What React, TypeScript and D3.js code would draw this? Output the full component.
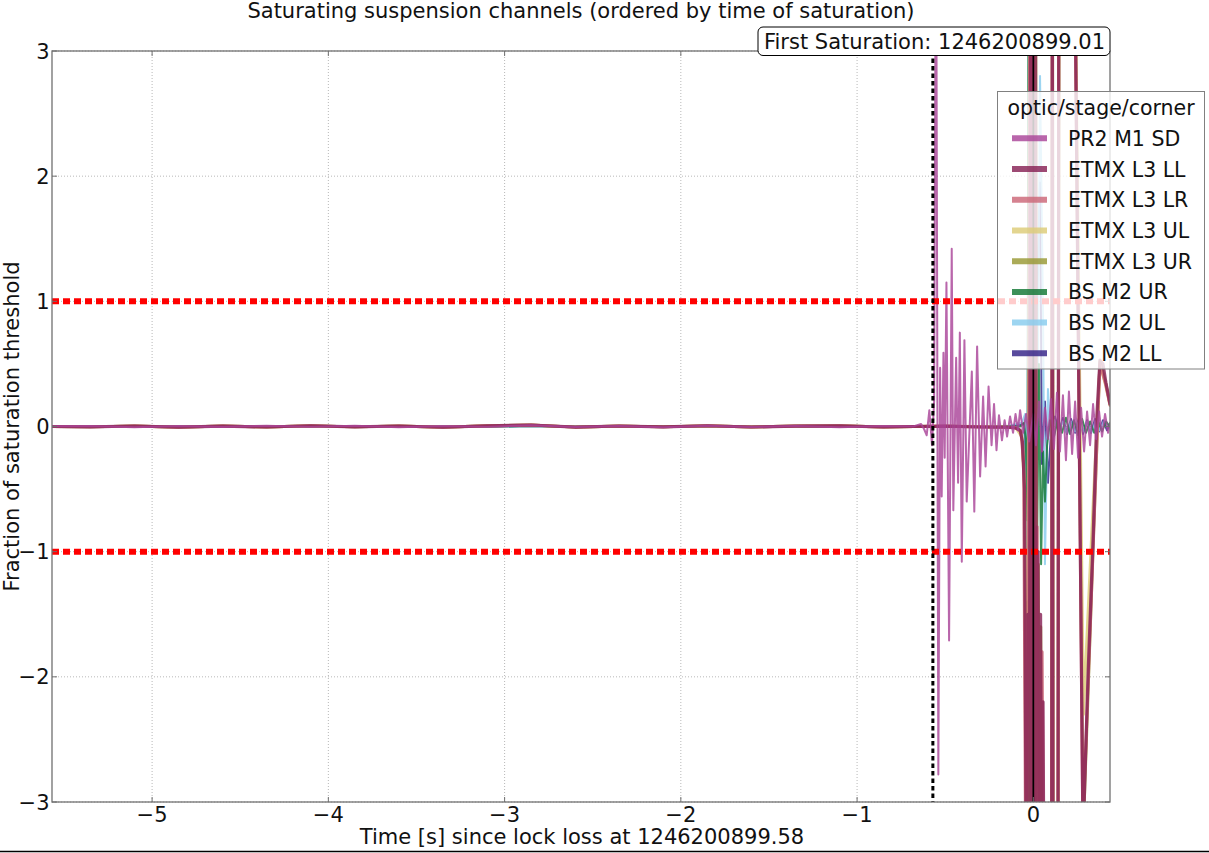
import * as d3 from "d3";

// quiet stretch before the burst, shared by every channel
const quietTimes = [-5.57, -5.35, -5.1, -4.85, -4.6, -4.35, -4.1, -3.85, -3.6, -3.35, -3.1, -2.85, -2.6, -2.35, -2.1, -1.85, -1.6, -1.35, -1.1, -0.85, -0.68];
const pr2Quiet = [0.002, 0.004, -0.006, 0.003, -0.004, 0.006, -0.003, 0.005, -0.005, 0.004, -0.003, 0.01, -0.004, 0.003, -0.006, 0.005, -0.004, 0.004, -0.005, 0.004, 0.001];
const etmxQuiet = [0.0, -0.003, 0.004, -0.005, 0.003, -0.004, 0.006, -0.003, 0.004, -0.006, 0.005, 0.012, -0.005, 0.004, -0.003, 0.006, -0.004, 0.003, 0.005, -0.004, 0.0];
const bsQuiet = [0.0, 0.002, -0.002, 0.001, -0.002, 0.002, -0.001, 0.002, -0.002, 0.001, -0.001, 0.003, -0.002, 0.001, -0.002, 0.002, -0.001, 0.001, -0.002, 0.001, 0.0];

const pr2Burst: [number, number][] = [
  [-0.637, 0.02], [-0.62, -0.02], [-0.605, -0.07], [-0.59, 0.13], [-0.575, -0.15], [-0.563, 0.2],
  [-0.552, 4.5], [-0.539, -2.78], [-0.529, 0.47], [-0.52, -0.56], [-0.51, 0.59], [-0.503, -0.25],
  [-0.493, 1.15], [-0.478, -1.71], [-0.463, 1.42], [-0.454, -0.67], [-0.438, 0.55], [-0.427, -0.45],
  [-0.417, 0.75], [-0.406, -1.08], [-0.391, 0.69], [-0.378, -0.6], [-0.349, 0.44], [-0.335, -0.68],
  [-0.319, 0.64], [-0.302, -0.4], [-0.285, 0.24], [-0.271, -0.32], [-0.254, 0.32], [-0.237, -0.15],
  [-0.223, 0.18], [-0.209, -0.19], [-0.195, 0.09], [-0.178, -0.11], [-0.163, 0.05], [-0.149, -0.08],
  [-0.132, 0.08], [-0.115, -0.05], [-0.101, 0.1], [-0.087, -0.03], [-0.075, 0.13], [-0.058, -0.05],
  [-0.041, 0.1], [-0.024, -0.12], [0.0, 0.1], [0.015, -0.15], [0.032, 0.2], [0.049, -0.2],
  [0.066, 0.15], [0.083, -0.1], [0.1, 0.22], [0.117, -0.18], [0.134, 0.27], [0.151, -0.2],
  [0.168, 0.25], [0.185, -0.27], [0.202, 0.28], [0.22, -0.22], [0.237, 0.2], [0.254, -0.25],
  [0.271, 0.15], [0.288, -0.2], [0.305, 0.12], [0.322, -0.15], [0.339, 0.18], [0.356, -0.1],
  [0.373, 0.12], [0.39, -0.08], [0.407, 0.1], [0.424, -0.05], [0.435, 0.03],
];
const etmxLLBurst: [number, number][] = [
  [-0.5, 0.003], [-0.3, -0.004], [-0.15, -0.006], [-0.1, -0.012], [-0.075, -0.03], [-0.062, -0.12],
  [-0.05, -0.5], [-0.039, -4], [-0.03, -1.5], [-0.023, -4], [-0.016, 4], [-0.009, -4], [-0.002, 4],
  [0.006, -4], [0.012, 4], [0.019, -4], [0.027, -1.0], [0.034, -4], [0.041, -1.5], [0.048, -4],
  [0.055, -2.2], [0.061, -4], [0.104, -4], [0.108, 4], [0.112, -4], [0.14, -4], [0.145, 4],
  [0.234, 4], [0.282, -3.3], [0.31, -2.0], [0.339, -0.9], [0.361, 0.1], [0.378, 0.53],
  [0.395, 0.5], [0.412, 0.35], [0.435, 0.18],
];
const etmxLRBurst: [number, number][] = [
  [-0.5, 0.002], [-0.15, -0.005], [-0.1, -0.01], [-0.07, -0.04], [-0.055, -0.3], [-0.042, -4],
  [-0.028, -1.2], [-0.019, 4], [-0.011, -4], [-0.001, 4], [0.008, -4], [0.022, -0.8], [0.036, -4],
  [0.05, -1.8], [0.06, -4], [0.103, -4], [0.107, 4], [0.111, -4], [0.139, -4], [0.144, 4],
  [0.233, 4], [0.281, -3.2], [0.34, -0.95], [0.377, 0.5], [0.41, 0.34], [0.435, 0.17],
];
const etmxULBurst: [number, number][] = [
  [-0.5, 0.003], [-0.15, -0.004], [-0.1, -0.01], [-0.065, -0.08], [-0.052, -0.45], [-0.04, -3.8],
  [-0.03, -1.3], [-0.02, 3.8], [-0.005, -3.8], [0.008, 3.8], [0.02, -3.8], [0.034, -3.8], [0.05, -3.8],
  [0.105, -3.8], [0.109, 3.8], [0.113, -3.8], [0.141, -3.8], [0.146, 3.8], [0.236, 3.8],
  [0.284, -2.3], [0.33, -0.9], [0.378, 0.5], [0.41, 0.33], [0.435, 0.17],
];
const etmxURBurst: [number, number][] = [
  [-0.5, 0.002], [-0.15, -0.005], [-0.1, -0.011], [-0.072, -0.035], [-0.06, -0.15], [-0.048, -0.55],
  [-0.038, -4], [-0.029, -1.4], [-0.022, -4], [-0.015, 4], [-0.008, -4], [-0.001, 4], [0.007, -4],
  [0.013, 4], [0.02, -4], [0.028, -1.1], [0.035, -4], [0.042, -1.6], [0.049, -4], [0.104, -4],
  [0.108, 4], [0.112, -4], [0.14, -4], [0.145, 4], [0.234, 4], [0.283, -3.25], [0.34, -0.92],
  [0.378, 0.52], [0.412, 0.34], [0.435, 0.18],
];
const bsURBurst: [number, number][] = [
  [-0.5, 0.002], [-0.3, -0.002], [-0.15, 0.003], [-0.075, 0.0], [-0.053, 0.03], [-0.043, -0.1],
  [-0.033, -0.75], [-0.027, 4], [-0.019, -0.9], [-0.01, 4], [-0.002, -1.5], [0.01, 1.5],
  [0.021, -0.95], [0.032, 0.5], [0.044, -1.1], [0.055, -0.2], [0.066, -0.6], [0.078, -0.15],
  [0.095, 0.05], [0.117, -0.08], [0.14, 0.06], [0.163, -0.05], [0.185, 0.07], [0.208, -0.06],
  [0.231, 0.05], [0.254, -0.07], [0.277, 0.06], [0.299, -0.05], [0.322, 0.04], [0.345, -0.05],
  [0.367, 0.05], [0.39, -0.04], [0.412, 0.04], [0.435, 0.0],
];
const bsULBurst: [number, number][] = [
  [-0.5, 0.001], [-0.15, 0.002], [-0.064, 0.03], [-0.047, 0.1], [-0.036, -1.0], [-0.024, 4],
  [-0.013, -1.1], [0.004, 2.0], [0.021, -0.6], [0.038, 2.8], [0.055, 0.9], [0.066, -1.1],
  [0.083, 0.3], [0.1, -0.1], [0.12, 0.05], [0.143, -0.04], [0.166, 0.04], [0.19, -0.05],
  [0.213, 0.04], [0.236, -0.04], [0.26, 0.05], [0.283, -0.04], [0.306, 0.04], [0.33, -0.05],
  [0.353, 0.04], [0.376, -0.03], [0.4, 0.04], [0.435, 0.0],
];
const bsLLBurst: [number, number][] = [
  [-0.5, 0.001], [-0.15, -0.002], [-0.053, 0.02], [-0.036, -0.4], [-0.019, 1.0], [-0.002, -0.8],
  [0.015, 0.6], [0.038, 1.95], [0.049, -0.3], [0.066, 0.2], [0.083, -0.45], [0.1, -0.05],
  [0.123, 0.08], [0.146, -0.04], [0.168, 0.07], [0.191, -0.06], [0.214, 0.06], [0.237, -0.05],
  [0.259, 0.07], [0.282, -0.06], [0.305, 0.05], [0.327, -0.05], [0.35, 0.06], [0.373, -0.04],
  [0.395, 0.05], [0.418, -0.03], [0.435, 0.02],
];

const channelNames = ["PR2 M1 SD", "ETMX L3 LL", "ETMX L3 LR", "ETMX L3 UL", "ETMX L3 UR", "BS M2 UR", "BS M2 UL", "BS M2 LL"];
const channelColors = ["#AA4499", "#882255", "#CC6677", "#DDCC77", "#999933", "#117733", "#88CCEE", "#332288"];
const channelQuiet = [pr2Quiet, etmxQuiet, etmxQuiet, etmxQuiet, etmxQuiet, bsQuiet, bsQuiet, bsQuiet];
const channelBursts = [pr2Burst, etmxLLBurst, etmxLRBurst, etmxULBurst, etmxURBurst, bsURBurst, bsULBurst, bsLLBurst];
const channelWidths = [2, 3.2, 3, 3, 3, 2, 2, 2];
const drawOrder = [7, 6, 5, 4, 3, 2, 1, 0];

const xTicks = [-5, -4, -3, -2, -1, 0];
const yTicks = [-3, -2, -1, 0, 1, 2, 3];
const thresholds = [1, -1];
const firstSaturation = -0.57;
const firstSaturationGps = "1246200899.01";
const lockLossGps = "1246200899.58";

const width = 1209;
const height = 853;
const plot = { left: 52, right: 1110, top: 51, bottom: 802 };
const font = "DejaVu Sans, sans-serif";

const fmt = (d: number) => (d < 0 ? "\u2212" + Math.abs(d) : String(d));

export default function App() {
  const x = d3.scaleLinear().domain([-5.568, 0.435]).range([plot.left, plot.right]);
  const y = d3.scaleLinear().domain([-3, 3]).range([plot.bottom, plot.top]);
  const line = d3
    .line<[number, number]>()
    .x((d) => x(d[0]))
    .y((d) => y(d[1]));

  const series = channelNames.map((_, i) =>
    quietTimes.map((t, j) => [t, channelQuiet[i][j]] as [number, number]).concat(channelBursts[i])
  );

  const legend = { x: 997.5, y: 91.5, w: 207, h: 277.5, row: 30.72, first: 138.3 };

  return (
    <div style={{ position: "absolute", left: 0, top: 0 }}>
      <svg width={width} height={height} style={{ display: "block", background: "#fff" }}>
        <defs>
          <clipPath id="plotClip">
            <rect x={plot.left} y={plot.top} width={plot.right - plot.left} height={plot.bottom - plot.top} />
          </clipPath>
        </defs>

        {/* grid */}
        <g stroke="#b8b8b8" strokeWidth={1} strokeDasharray="1,2">
          {xTicks.map((t) => (
            <line key={"gx" + t} x1={x(t)} x2={x(t)} y1={plot.top} y2={plot.bottom} />
          ))}
          {yTicks.map((t) => (
            <line key={"gy" + t} x1={plot.left} x2={plot.right} y1={y(t)} y2={y(t)} />
          ))}
        </g>

        {/* channels */}
        <g clipPath="url(#plotClip)" fill="none">
          {drawOrder.map((i) => (
            <path
              key={channelNames[i]}
              d={line(series[i]) || ""}
              stroke={channelColors[i]}
              strokeOpacity={0.82}
              strokeWidth={channelWidths[i]}
              strokeLinejoin="round"
              strokeLinecap="round"
            />
          ))}
          {thresholds.map((v) => (
            <line key={"th" + v} x1={plot.left} x2={plot.right} y1={y(v)} y2={y(v)} stroke="#ff0000" strokeWidth={6} strokeDasharray="7,4" strokeLinecap="butt" />
          ))}
          <line x1={x(0)} x2={x(0)} y1={plot.top} y2={plot.bottom} stroke="#000" strokeWidth={1.7} />
          <line x1={x(firstSaturation)} x2={x(firstSaturation)} y1={plot.top} y2={plot.bottom} stroke="#000" strokeWidth={3} strokeDasharray="4.5,3" strokeLinecap="butt" />
        </g>

        {/* frame and ticks */}
        <rect x={plot.left} y={plot.top} width={plot.right - plot.left} height={plot.bottom - plot.top} fill="none" stroke="#707070" strokeWidth={1.3} />
        <g stroke="#707070" strokeWidth={1}>
          {xTicks.map((t) => (
            <g key={"tx" + t}>
              <line x1={x(t)} x2={x(t)} y1={plot.bottom} y2={plot.bottom - 5} />
              <line x1={x(t)} x2={x(t)} y1={plot.top} y2={plot.top + 5} />
            </g>
          ))}
          {yTicks.map((t) => (
            <g key={"ty" + t}>
              <line x1={plot.left} x2={plot.left + 5} y1={y(t)} y2={y(t)} />
              <line x1={plot.right} x2={plot.right - 5} y1={y(t)} y2={y(t)} />
            </g>
          ))}
        </g>
        <g fontFamily={font} fontSize={21} fill="#111">
          {xTicks.map((t) => (
            <text key={"lx" + t} x={x(t)} y={822} textAnchor="middle">
              {fmt(t)}
            </text>
          ))}
          {yTicks.map((t) => (
            <text key={"ly" + t} x={plot.left - 2.5} y={y(t) + 7.6} textAnchor="end">
              {fmt(t)}
            </text>
          ))}
          <text x={(plot.left + plot.right) / 2} y={18} textAnchor="middle">
            Saturating suspension channels (ordered by time of saturation)
          </text>
          <text x={(plot.left + plot.right) / 2 + 1} y={844} textAnchor="middle">
            {`Time [s] since lock loss at ${lockLossGps}`}
          </text>
          <text transform={`translate(19, ${(plot.top + plot.bottom) / 2}) rotate(-90)`} textAnchor="middle">
            Fraction of saturation threshold
          </text>
        </g>

        {/* first saturation label */}
        <rect x={758} y={27} width={352} height={28.5} rx={5} fill="#fff" stroke="#000" strokeWidth={1} />
        <text x={934.5} y={49.3} textAnchor="middle" fontFamily={font} fontSize={21} fill="#111">
          {`First Saturation: ${firstSaturationGps}`}
        </text>

        {/* legend */}
        <rect x={legend.x} y={legend.y} width={legend.w} height={legend.h} fill="#fff" fillOpacity={0.8} stroke="#808080" strokeWidth={1} />
        <g fontFamily={font} fontSize={20.5} fill="#111">
          <text x={legend.x + legend.w / 2} y={115} textAnchor="middle">
            optic/stage/corner
          </text>
          {channelNames.map((name, i) => {
            const cy = legend.first + i * legend.row;
            return (
              <g key={"lg" + name}>
                <line x1={1012} x2={1047} y1={cy} y2={cy} stroke={channelColors[i]} strokeOpacity={0.82} strokeWidth={6} />
                <text x={1068} y={cy + 7.5}>
                  {name}
                </text>
              </g>
            );
          })}
        </g>

        <line x1={0} x2={width} y1={851.5} y2={851.5} stroke="#000" strokeWidth={1.5} />
      </svg>
    </div>
  );
}
